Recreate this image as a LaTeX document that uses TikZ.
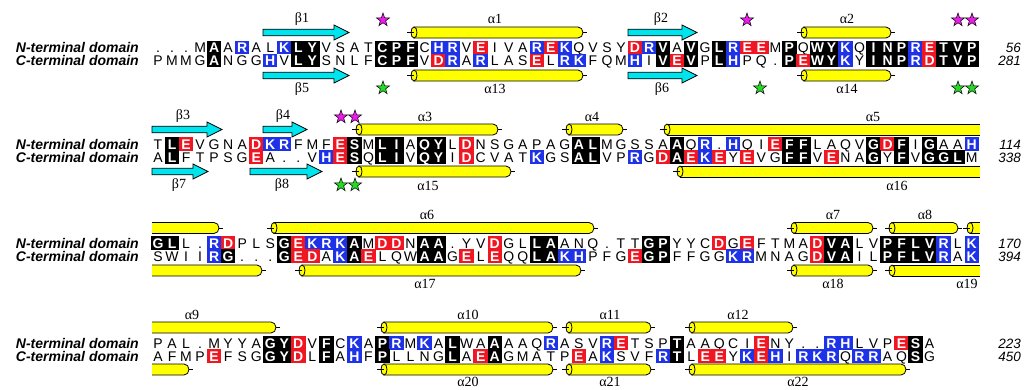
\documentclass[tikz,border=0pt]{standalone}
\usepackage{fontspec}
\setmainfont{Liberation Serif}
\setsansfont{Liberation Sans}
\usepackage{tikz}
\usetikzlibrary{shapes.geometric}

\definecolor{boxred}{RGB}{240,22,34}
\definecolor{boxblue}{RGB}{30,50,232}
\definecolor{helixyellow}{RGB}{255,255,0}
\definecolor{strandcyan}{RGB}{0,228,238}
\definecolor{starpink}{RGB}{232,30,232}
\definecolor{stargreen}{RGB}{40,215,40}

\newcommand\seqfont{\sffamily\fontsize{14}{16}\selectfont}
\def\codek{k}\def\coder{r}\def\codeb{b}

% one line of the alignment: name prefix, centre height, letter/colour list
\newcommand\seqrow[3]{%
  \foreach \r/\c [count=\i] in {#3}{%
    \pgfmathsetmacro\cx{158+(\i-1)*14.03}%
    \edef\cc{\c}%
    \def\bg{}%
    \ifx\cc\codek\def\bg{black}\fi
    \ifx\cc\coder\def\bg{boxred}\fi
    \ifx\cc\codeb\def\bg{boxblue}\fi
    \ifx\bg\empty
      \node[res] (#1-\i) at (\cx,#2+5) {\r};
    \else
      \fill[\bg] (\cx-7.2,#2-6.6) rectangle (\cx+7.2,#2+6.6);
      \node[resbox] (#1-\i) at (\cx,#2+5) {\r};
    \fi}}

\newcommand\drawhelix[3]{%
  \draw[helix] (#1+7,#3-5.5) -- (#2-9,#3-5.5) arc[start angle=-90,end angle=90,x radius=5,y radius=5.5] -- (#1+7,#3+5.5) -- cycle;
  \draw[helix] (#1+7,#3) ellipse[x radius=3,y radius=5.5];
  \draw[helixline] (#1,#3) -- (#1+7,#3) (#2-4,#3) -- (#2,#3);}
% helix carried over from the block above: open left end
\newcommand\helixin[3]{%
  \fill[helixyellow] (#1,#3-5.5) -- (#2-9,#3-5.5) arc[start angle=-90,end angle=90,x radius=5,y radius=5.5] -- (#1,#3+5.5) -- cycle;
  \draw[helixline] (#1,#3-5.5) -- (#2-9,#3-5.5) arc[start angle=-90,end angle=90,x radius=5,y radius=5.5] -- (#1,#3+5.5);
  \draw[helixline] (#2-4,#3) -- (#2,#3);}
% helix going on in the next block: open right end
\newcommand\helixout[3]{%
  \fill[helixyellow] (#1+7,#3-5.5) rectangle (#2,#3+5.5);
  \draw[helixline] (#2,#3-5.5) -- (#1+7,#3-5.5) (#1+7,#3+5.5) -- (#2,#3+5.5);
  \draw[helix] (#1+7,#3) ellipse[x radius=3,y radius=5.5];
  \draw[helixline] (#1,#3) -- (#1+7,#3);}
\newcommand\drawstrand[3]{%
  \draw[strand] (#1,#3-3.3) -- (#2-15,#3-3.3) -- (#2-15,#3-7.5) -- (#2,#3) -- (#2-15,#3+7.5) -- (#2-15,#3+3.3) -- (#1,#3+3.3) -- cycle;}

\begin{document}
\begin{tikzpicture}[x=1pt, y=-1pt,
  res/.style={anchor=base, inner sep=0pt, font=\seqfont},
  resbox/.style={res, text=white, font=\seqfont\bfseries},
  domlabel/.style={anchor=base east, inner sep=0pt, font=\sffamily\bfseries\itshape\fontsize{14}{16}\selectfont},
  resnum/.style={anchor=base east, inner sep=0pt, font=\sffamily\itshape\fontsize{13.5}{16}\selectfont},
  sslabel/.style={inner sep=0pt, font=\fontsize{14}{16}\selectfont},
  helix/.style={draw, line width=0.8pt, fill=helixyellow},
  helixline/.style={line width=0.8pt},
  strand/.style={draw, line width=0.8pt, fill=strandcyan, line join=miter},
  starup/.style={star, star points=5, star point ratio=2.5, minimum size=14pt, inner sep=0pt, draw, line width=0.5pt, fill=starpink},
  stardown/.style={starup, fill=stargreen},
]
\useasboundingbox (0,0) rectangle (1024,389);

% ---- block 1
\node[domlabel] (dn1) at (139,52.5) {N-terminal domain};
\node[domlabel] (dc1) at (139,65.5) {C-terminal domain};
\seqrow{n1}{47.5}{./n,./n,./n,M/n,A/k,A/n,R/b,A/n,L/n,K/b,L/k,Y/k,V/n,S/n,A/n,T/n,C/k,P/k,F/k,C/n,H/b,R/b,V/n,E/r,I/n,V/n,A/n,R/b,E/r,K/b,Q/n,V/n,S/n,Y/n,D/r,R/b,V/k,A/n,V/k,G/n,L/k,R/b,E/r,E/r,M/n,P/k,Q/n,W/k,Y/k,K/b,Q/n,I/k,N/k,P/k,R/b,E/r,T/k,V/k,P/k}
\seqrow{c1}{60.5}{P/n,M/n,M/n,G/n,A/k,N/n,G/n,G/n,H/b,V/n,L/k,Y/k,S/n,N/n,L/n,F/n,C/k,P/k,F/k,V/n,D/r,R/b,A/n,R/b,L/n,A/n,S/n,E/r,L/n,R/b,K/b,F/n,Q/n,M/n,H/b,I/n,V/k,E/r,V/k,P/n,L/k,H/b,P/n,Q/n,./n,P/k,E/r,W/k,Y/k,K/b,Y/n,I/k,N/k,P/k,R/b,D/r,T/k,V/k,P/k}
\node[resnum] (nn1) at (1021,52.5) {56};
\node[resnum] (nc1) at (1021,65.5) {281};
\drawstrand{263}{349}{32.5}
\drawhelix{407}{587}{32.5}
\drawstrand{628}{697}{32.5}
\drawhelix{797}{895}{32.5}
\node[sslabel] (b1) at (302,19) {β1};
\node[sslabel] (a1) at (495,19) {α1};
\node[sslabel] (b2) at (661,19) {β2};
\node[sslabel] (a2) at (847,19) {α2};
\node[starup] (su1) at (383,20) {};
\node[starup] (su2) at (747,20) {};
\node[starup] (su3) at (958,20) {};
\node[starup] (su4) at (972,20) {};
\drawstrand{263}{349}{75.5}
\drawhelix{407}{587}{75.5}
\drawstrand{628}{697}{75.5}
\drawhelix{797}{895}{75.5}
\node[sslabel] (b5) at (302,89) {β5};
\node[sslabel] (a13) at (495,89) {α13};
\node[sslabel] (b6) at (662,89) {β6};
\node[sslabel] (a14) at (847,89) {α14};
\node[stardown] (sd1) at (383,88) {};
\node[stardown] (sd2) at (760,88) {};
\node[stardown] (sd3) at (958,88) {};
\node[stardown] (sd4) at (972,88) {};

% ---- block 2
\node[domlabel] (dn2) at (139,149) {N-terminal domain};
\node[domlabel] (dc2) at (139,162) {C-terminal domain};
\seqrow{n2}{144}{T/n,L/k,E/r,V/n,G/n,N/n,A/n,D/r,K/b,R/b,F/n,M/n,F/n,E/r,S/k,M/n,L/k,I/k,A/n,Q/k,Y/k,L/n,D/r,N/n,S/n,G/n,A/n,P/n,A/n,G/n,A/k,L/k,M/n,G/n,S/n,S/n,A/n,A/k,Q/n,R/b,./n,H/b,Q/n,I/n,E/r,F/k,F/k,L/n,A/n,Q/n,V/n,G/k,D/r,F/k,I/n,G/k,A/n,A/n,H/b}
\seqrow{c2}{157}{A/n,L/k,F/n,T/n,P/n,S/n,G/n,E/r,A/n,./n,./n,V/n,H/b,E/r,S/k,Q/n,L/k,I/k,V/n,Q/k,Y/k,I/n,D/r,C/n,V/n,A/n,T/n,K/b,G/n,S/n,A/k,L/k,V/n,P/n,R/b,G/n,D/r,A/k,E/r,K/b,E/r,Y/n,E/r,V/n,G/n,F/k,F/k,V/n,E/r,N/n,A/n,G/k,Y/n,F/k,V/n,G/k,G/k,L/k,M/n}
\node[resnum] (nn2) at (1021,149) {114};
\node[resnum] (nc2) at (1021,162) {338};
\drawstrand{152}{222}{129.5}
\drawstrand{263}{307}{129.5}
\drawhelix{352}{502}{129.5}
\drawhelix{562}{627}{129.5}
\helixout{660}{980}{129.5}
\node[sslabel] (b3) at (183,116.5) {β3};
\node[sslabel] (b4) at (283,116.5) {β4};
\node[sslabel] (a3) at (425,116.5) {α3};
\node[sslabel] (a4) at (592,116.5) {α4};
\node[sslabel] (a5) at (873,116.5) {α5};
\node[starup] (su5) at (341,117) {};
\node[starup] (su6) at (355,117) {};
\drawstrand{152}{208}{171.5}
\drawstrand{250}{322}{171.5}
\drawhelix{352}{515}{171.5}
\helixout{673}{980}{171.5}
\node[sslabel] (b7) at (179,185.5) {β7};
\node[sslabel] (b8) at (282,185.5) {β8};
\node[sslabel] (a15) at (428,185.5) {α15};
\node[sslabel] (a16) at (897,185.5) {α16};
\node[stardown] (sd5) at (341,185) {};
\node[stardown] (sd6) at (355,185) {};

% ---- block 3
\node[domlabel] (dn3) at (139,248) {N-terminal domain};
\node[domlabel] (dc3) at (139,261) {C-terminal domain};
\seqrow{n3}{243}{G/k,L/k,L/n,./n,R/b,D/r,P/n,L/n,S/n,G/k,E/r,K/b,R/b,K/b,A/k,M/n,D/r,D/r,N/n,A/k,A/k,./n,Y/n,V/n,D/r,G/n,L/n,L/k,A/k,A/n,N/n,Q/n,./n,T/n,T/n,G/k,P/k,Y/n,Y/n,C/n,D/r,G/n,E/r,F/n,T/n,M/n,A/n,D/r,V/k,A/k,L/n,V/n,P/k,F/k,L/k,V/k,R/b,L/n,K/b}
\seqrow{c3}{256}{S/n,W/n,I/n,I/n,R/b,G/k,./n,./n,./n,G/k,E/r,D/r,A/n,K/b,A/k,E/r,L/n,Q/n,W/n,A/k,A/k,G/n,E/r,L/n,E/r,Q/n,Q/n,L/k,A/k,K/b,H/b,P/n,F/n,G/n,E/r,G/k,P/k,F/n,F/n,G/n,G/n,K/b,R/b,M/n,N/n,A/n,G/n,D/r,V/k,A/k,I/n,L/n,P/k,F/k,L/k,V/k,R/b,A/n,K/b}
\node[resnum] (nn3) at (1021,248) {170};
\node[resnum] (nc3) at (1021,261) {394};
\helixin{152}{223}{228}
\drawhelix{267}{598}{228}
\drawhelix{787}{877}{228}
\drawhelix{885}{962}{228}
\helixout{963}{980}{228}
\node[sslabel] (a6) at (427,215) {α6};
\node[sslabel] (a7) at (833,215) {α7};
\node[sslabel] (a8) at (925,215) {α8};
\helixin{152}{266}{270.5}
\drawhelix{295}{585}{270.5}
\drawhelix{787}{877}{270.5}
\helixout{885}{980}{270.5}
\node[sslabel] (a17) at (425,284) {α17};
\node[sslabel] (a18) at (833,284) {α18};
\node[sslabel] (a19) at (967,284) {α19};

% ---- block 4
\node[domlabel] (dn4) at (139,348) {N-terminal domain};
\node[domlabel] (dc4) at (139,361) {C-terminal domain};
\seqrow{n4}{343}{P/n,A/n,L/n,./n,M/n,Y/n,Y/n,A/n,G/k,Y/k,D/r,V/n,F/k,C/n,K/b,A/n,P/k,R/b,M/n,K/b,A/n,L/k,W/n,A/n,A/k,A/n,A/n,Q/n,R/b,A/n,S/n,V/n,R/b,E/r,T/n,S/n,P/n,T/k,A/n,A/n,Q/n,C/n,I/n,E/r,N/n,Y/n,./n,./n,R/b,H/b,L/n,V/n,P/n,E/r,S/k,A/n}
\seqrow{c4}{356}{A/n,F/n,M/n,P/n,E/r,F/n,S/n,G/n,G/k,Y/k,D/r,L/n,F/k,A/n,H/b,F/n,P/k,L/n,L/n,N/n,G/n,L/k,A/n,E/r,A/k,G/n,M/n,A/n,T/n,P/n,E/r,A/n,K/b,S/n,V/n,F/n,R/b,T/k,L/n,E/r,E/r,Y/n,K/b,E/r,H/b,I/n,R/b,K/b,R/b,Q/n,R/b,R/b,A/n,Q/n,S/k,G/n}
\node[resnum] (nn4) at (1021,348) {223};
\node[resnum] (nc4) at (1021,361) {450};
\helixin{152}{280}{327.5}
\drawhelix{377}{557}{327.5}
\drawhelix{562}{655}{327.5}
\drawhelix{685}{797}{327.5}
\node[sslabel] (a9) at (192,314.5) {α9};
\node[sslabel] (a10) at (468,314.5) {α10};
\node[sslabel] (a11) at (610,314.5) {α11};
\node[sslabel] (a12) at (738,314.5) {α12};
\helixin{152}{193}{369.5}
\drawhelix{377}{557}{369.5}
\drawhelix{562}{655}{369.5}
\drawhelix{685}{910}{369.5}
\node[sslabel] (a20) at (468,381.5) {α20};
\node[sslabel] (a21) at (610,381.5) {α21};
\node[sslabel] (a22) at (798,381.5) {α22};
\end{tikzpicture}
\end{document}
